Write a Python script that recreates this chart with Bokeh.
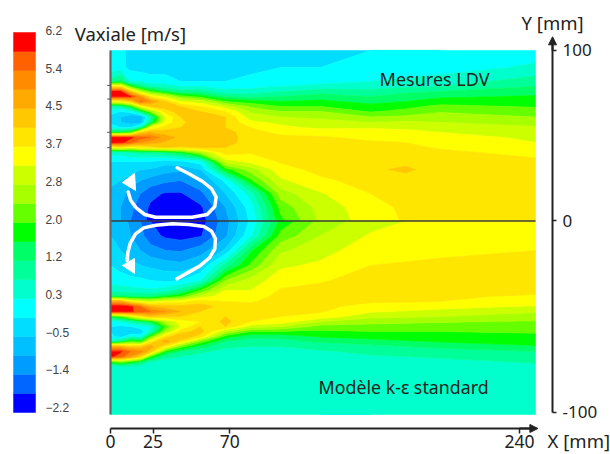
import numpy as np
from bokeh.core.properties import value
from bokeh.embed import file_html
from bokeh.models import Arrow, ColumnDataSource, FixedTicker, LinearAxis, NormalHead, Range1d
from bokeh.plotting import figure
from bokeh.plotting.contour import contour_data
from bokeh.resources import INLINE

# ---- colour scale (m/s) ----
levels = np.linspace(-2.2, 6.2, 21)
scale_labels = ["\u22122.2", "\u22121.4", "\u22120.5", "0.3", "1.2", "2.0", "2.8", "3.7", "4.5", "5.4", "6.2"]
band_colors = ["#0000ff", "#0066ff", "#009cff", "#00c0ff", "#00ddff", "#00ffff", "#00ffcc", "#00ff99",
               "#00ff66", "#00ff00", "#66ff00", "#a8ff00", "#ccff00", "#ffff00", "#ffe600", "#ffc800",
               "#ffaa00", "#ff8c00", "#ff6000", "#ff0000"]

# ---- measured half (Mesures LDV): position on the colour scale, one list per X station ----
x_top = [0, 5.9, 11.7, 17.6, 23.5, 32.3, 41.1, 52.8, 67.5, 82.2, 99.8, 123.2, 152.6, 173.1, 193.7, 249.4]
y_top = [100, 90, 81.8, 78.9, 76, 73, 70.1, 67.1, 64.2, 61, 57.8, 54.8, 51.9, 49, 46, 43.1, 40.2, 34.9, 30.2, 23.8, 16.1, 7.9, 0]
band_top = [
    [5.3,5.3,7.5,14,19.3,19.3,13,7,5.2,4.8,4.8,5.5,9,19.2,19.5,13,6.5,5,4.6,4.2,3.8,3.5,3.5],
    [5.3,5.3,8.5,14,19.3,19.3,13.5,7,5,4,4,5,9,19.3,19.3,14,6.5,5,4.5,4,3.5,3,3],
    [4.7,4.7,6,10,15.5,19.2,15,9,5.5,3,3.5,5,10,19.2,18.5,13,7,5,4.5,3.5,2.5,2.2,2],
    [4.5,4.5,6,8,12,17,18.3,13,8,3,3.5,7,15,18.5,17,14,7.5,5,4,3,2,1.6,1.5],
    [4.5,4.5,5.5,7,10,14,17,15,11,7,8,13,16,18,16.5,14.5,7.5,5,3.9,2.6,1.3,.8,.6],
    [4.5,4.5,5.5,6.5,8.5,12.5,15,15.5,14.5,13,13.3,14.5,15.5,16.5,15.8,15,8,4.5,3.4,2.2,.9,.3,.3],
    [4.5,4.5,5,6,7.5,10.5,13,15,15.5,15,14.8,15,15.4,15.7,15.7,14.8,9,4.8,3.2,2,.9,.4,.3],
    [4.5,4.5,5,6,7.5,9.5,12.5,14,15,16,15.5,15.3,15.5,15.7,15.6,15,11.5,5.5,4,2.8,1.7,.8,.5],
    [4.5,4.6,5,5.6,6.3,8,10,12.5,14,15,15,15,15.5,15.6,15.4,15,14.5,12.5,9.5,5.3,4,3,2.6],
    [4.6,4.8,5.2,5.7,6.5,7.5,9.5,10.8,11.8,12.5,13.2,14,14.3,14.4,14.5,14.4,14.1,13.3,11.5,9.8,6.5,5.5,5.2],
    [4.8,5,5.5,6,7,8,9,10,11,12,12.8,13.2,13.8,14.2,14.4,14.4,14.3,14.1,13.6,12.8,11.5,10.3,9.7],
    [4.5,5,5.7,6.3,7.5,8.5,9.2,10,11,11.8,12.3,12.8,13.6,14.1,14.4,14.5,14.5,14.4,14.3,13.8,12.9,12.4,12.2],
    [5,5.3,6,6.5,7.3,8,8.7,9.3,9.9,11,12,12.9,13.4,13.8,14.1,14.3,14.5,14.6,14.8,14.4,14,13.6,13.5],
    [5,5.5,6.2,6.8,7.7,8.5,9,9.7,10.3,11.2,12.2,12.8,13.3,13.7,14,14.2,14.5,14.7,15.2,14.6,14.3,14.2,14.1],
    [5,5.5,6.5,7,8,8.8,9.5,10.3,10.9,11.5,12,12.6,13,13.4,13.7,13.9,14.2,14.5,14.5,14.5,14.5,14.5,14.5],
    [5.5,6.2,7.5,8,8.6,9.1,9.5,9.9,10.5,11,11.7,12.1,12.6,12.8,13,13.3,13.7,14.2,14.5,14.5,14.5,14.5,14.5],
]

# ---- model half (k-epsilon) ----
x_bot = [0, 5.9, 11.7, 17.6, 23.5, 32.3, 41.1, 52.8, 67.5, 82.2, 99.8, 123.2, 152.6, 193.7, 249.4]
y_bot = [0, -7.6, -15.4, -23.2, -31.1, -36.3, -39.4, -42, -44.6, -47.3, -49.9, -52.5, -55.1, -57.7, -60.3, -62.9, -65.5, -68.1, -70.8, -73.4, -76, -79.1, -85.9, -101]
band_bot = [
    [4,4,4.5,5,5.6,6.5,8.5,16.5,19.6,19.2,9,5.5,5,5,5.3,6.5,16,19.2,19.2,10,6.2,6,6,6],
    [3.5,3.6,4,4.6,5.5,6.5,8.2,16.5,19.6,19.2,10,6,4.8,4.2,4.5,8,16,19.2,18.5,11,6.5,6.2,6.2,6.2],
    [2.8,3,3.5,4.3,5.3,6.4,8,14,19.3,19.2,12,7,5,3.8,6,10,15,18,17,10,6.5,6.2,6.2,6.2],
    [2,2.3,3,4,5.2,6.3,8,13,18,18.5,14,8,5.5,4.3,5.5,9.5,15,17.5,15,8.5,6.4,6.2,6.2,6.2],
    [1,1.4,2.4,3.8,5,6.2,8,12.5,16,18,15.5,9,6,6.5,10,14,16.5,15.5,10,7,6.3,6.2,6.2,6.2],
    [.4,.8,2,3.5,4.8,6.5,9,13.5,15.5,17,15,12,10,11.5,14.5,16.5,14,9.5,7.5,6.5,6.3,6.2,6.2,6.2],
    [.4,.6,1.9,3.3,5,7.5,10,13.5,15.3,16,15,13.5,13,14.5,16,14.5,10.5,8,7,6.4,6.2,6.2,6.2,6.2],
    [.5,.9,2.5,4,6,10,12.5,14.5,15.5,15,14.5,14,15,15.5,14.5,10.5,8.5,7.2,6.6,6.3,6.2,6.2,6.2,6.2],
    [2.6,2.8,4.2,7.5,11,13,13.5,14,14.5,14.7,15,15.3,15,12,9.5,8,7.2,6.7,6.4,6.2,6.2,6.2,6.2,6.2],
    [5.2,5.8,8.8,10.2,12.4,13,13.5,13.9,14.3,14.5,14.6,14,12.5,10,8.3,7.5,7,6.6,6.4,6.2,6.2,6.2,6.2,6.2],
    [9.3,10.3,11.8,12.8,13.6,14.1,14.3,14.4,14.4,14.3,14,13.6,12,10,8.3,7.6,7,6.6,6.4,6.2,6.2,6.2,6.2,6.2],
    [11.3,12,12.6,13.2,13.9,14.3,14.4,14.3,14.2,14.1,13.6,12,10.6,9.8,9.1,8.2,7.3,6.9,6.6,6.4,6.3,6.2,6.1,6],
    [12.6,13.1,13.6,14,14.4,14.4,14.3,14.1,13.7,13.1,12.3,11.3,10.7,10,9.4,8.6,7.7,7.2,6.9,6.6,6.4,6.3,6.1,6],
    [13.4,13.5,13.8,14.2,14.4,14.3,14.1,14,13.3,12.7,12,11.1,10.5,10,9.6,9.1,8.3,7.5,7.1,6.8,6.6,6.5,6.2,6.1],
    [13.5,13.6,14,14.3,14.4,14.2,13.9,13.6,12.9,12.1,11.5,10.9,10.4,10.1,9.8,9.4,8.9,8,7.6,7.1,6.8,6.5,6.3,6.2],
]

# ---- recirculation arrows (mm) ----
swirl_top_x = [39.1, 46, 53.8, 59.3, 62, 61.2, 56.7, 47.9, 36.2, 26.4, 20.1, 15.1, 11.9, 10.4]
swirl_top_y = [31.2, 27.7, 23.3, 18.9, 14, 8.5, 3.8, 2.2, 2.2, 2.2, 3.8, 7.7, 12, 16.9]
head_top_x = [7, 14.1, 14.7]
head_top_y = [22.6, 27.9, 17.9]
swirl_bot_x = [39.1, 46, 52.8, 58.1, 61.2, 61.6, 59.3, 54.8, 46, 36.2, 26.4, 19.5, 14.7, 11.6, 10.2, 9.8]
swirl_bot_y = [-30.2, -26.7, -23.2, -19.2, -14.5, -9.3, -5.3, -2.9, -1.8, -1.5, -2.2, -3.6, -6.7, -11.6, -16.3, -20.6]
head_bot_x = [7, 14.1, 14.1]
head_bot_y = [-23.2, -19.6, -27.4]

# ---- axes ----
x_ticks = [0, 25, 70, 240]
y_tick_pos = [100, 0, -112.3]
y_tick_labels = {100: "100", 0: "0", -112.3: "-100"}
wall_marks = [79.5, 71.5, 52, 43]
x_axis_at = -121.7
y_axis_at = 259.4

ink = "#222222"
FONT = "Noto Sans"

p = figure(width=610, height=454, output_backend="svg", toolbar_location=None,
           x_range=Range1d(-64.55, 293.4), y_range=Range1d(-136.95, 129.3),
           x_axis_type=None, y_axis_type=None,
           min_border_left=0, min_border_top=0, min_border_right=0, min_border_bottom=0,
           background_fill_color="white", outline_line_color=None)
p.grid.visible = False
p.extra_y_ranges = {"model": Range1d(-121.9, 115.1), "scale": Range1d(-3.128, 6.907)}


def draw_half(xs, ys, bands, range_name):
    y = np.array(ys, dtype=float)
    z = -2.2 + 0.42 * np.array(bands, dtype=float).T
    order = np.argsort(y)
    fill = contour_data(np.array(xs, dtype=float), y[order], z[order, :], levels,
                        want_fill=True, want_line=False).fill_data
    src = ColumnDataSource(dict(xs=list(fill.xs), ys=list(fill.ys), c=band_colors))
    kw = {} if range_name is None else {"y_range_name": range_name}
    p.multi_polygons(xs="xs", ys="ys", fill_color="c", line_color="c", line_width=0.6, source=src, **kw)


draw_half(x_top, y_top, band_top, None)
draw_half(x_bot, y_bot, band_bot, "model")

# centre line and wall
p.segment(x0=[0], y0=[0], x1=[249.4], y1=[0], line_color="#3a3a3a", line_width=1.3)
p.segment(x0=[0], y0=[100], x1=[0], y1=[-113.5], line_color="#666666", line_width=2.2)
p.segment(x0=[-2] * 4, y0=wall_marks, x1=[0] * 4, y1=wall_marks, line_color="#555555", line_width=1)

# arrows
p.line(swirl_top_x, swirl_top_y, line_color="white", line_width=3.5, line_join="round", line_cap="round")
p.patch(head_top_x, head_top_y, fill_color="white", line_color="white")
p.line(swirl_bot_x, swirl_bot_y, line_color="white", line_width=3.5, line_join="round", line_cap="round", y_range_name="model")
p.patch(head_bot_x, head_bot_y, fill_color="white", line_color="white", y_range_name="model")

# colour scale
p.quad(left=-56.9, right=-44.0, bottom=levels[:-1], top=levels[1:], fill_color=band_colors,
       line_color=band_colors, line_width=0.5, y_range_name="scale")
lab_values = levels[::2]
lab_off = [-(2 + 0.3 * (10 - i)) for i in range(11)]
p.text(x=[-38.2] * 11, y=lab_values, text=scale_labels, text_font=value("Liberation Sans"),
       text_font_size="12px", text_color="#444444", text_baseline="middle",
       y_offset=lab_off, y_range_name="scale")

# real axes
xax = LinearAxis(ticker=FixedTicker(ticks=x_ticks), bounds=(0, 249.5), fixed_location=x_axis_at)
xax.axis_line_color = ink
xax.axis_line_width = 2
xax.major_tick_line_color = ink
xax.major_tick_line_width = 1.5
xax.major_tick_in = 0
xax.major_tick_out = 5
xax.minor_tick_line_color = None
xax.major_label_standoff = 2
xax.major_label_text_font = FONT
xax.major_label_text_font_size = "17.5px"
xax.major_label_text_color = ink
p.add_layout(xax, "below")

yax = LinearAxis(ticker=FixedTicker(ticks=y_tick_pos), bounds=(-112.3, 106),
                 major_label_overrides=y_tick_labels, fixed_location=y_axis_at)
yax.axis_line_color = ink
yax.axis_line_width = 2
yax.major_tick_line_color = ink
yax.major_tick_line_width = 1.5
yax.major_tick_in = 0
yax.major_tick_out = 4
yax.minor_tick_line_color = None
yax.major_label_standoff = 6
yax.major_label_text_font = FONT
yax.major_label_text_font_size = "17px"
yax.major_label_text_color = ink
p.add_layout(yax, "right")

p.add_layout(Arrow(end=NormalHead(size=8, fill_color=ink, line_color=ink), line_color=ink, line_width=2,
                   x_start=y_axis_at, y_start=100, x_end=y_axis_at, y_end=108))
p.add_layout(Arrow(end=NormalHead(size=8, fill_color=ink, line_color=ink), line_color=ink, line_width=2,
                   x_start=240, y_start=x_axis_at, x_end=250.8, y_end=x_axis_at))

# texts: name, X (mm), Y (mm)
notes = ["Vaxiale [m/s]", "Mesures LDV", "Mod\u00e8le k-\u03b5 standard", "Y [mm]", "X [mm]"]
note_x = [-21, 157.9, 122.1, 241.2, 256.5]
note_y = [110, 83, -97.1, 116.4, -128.8]
note_size = ["18.5px", "18px", "17.8px", "18.5px", "18.5px"]
p.text(x=note_x, y=note_y, text=notes, text_font=value(FONT), text_font_size=note_size,
       text_color=ink, text_baseline="middle")

open("out.html", "w").write(file_html(p, INLINE))
